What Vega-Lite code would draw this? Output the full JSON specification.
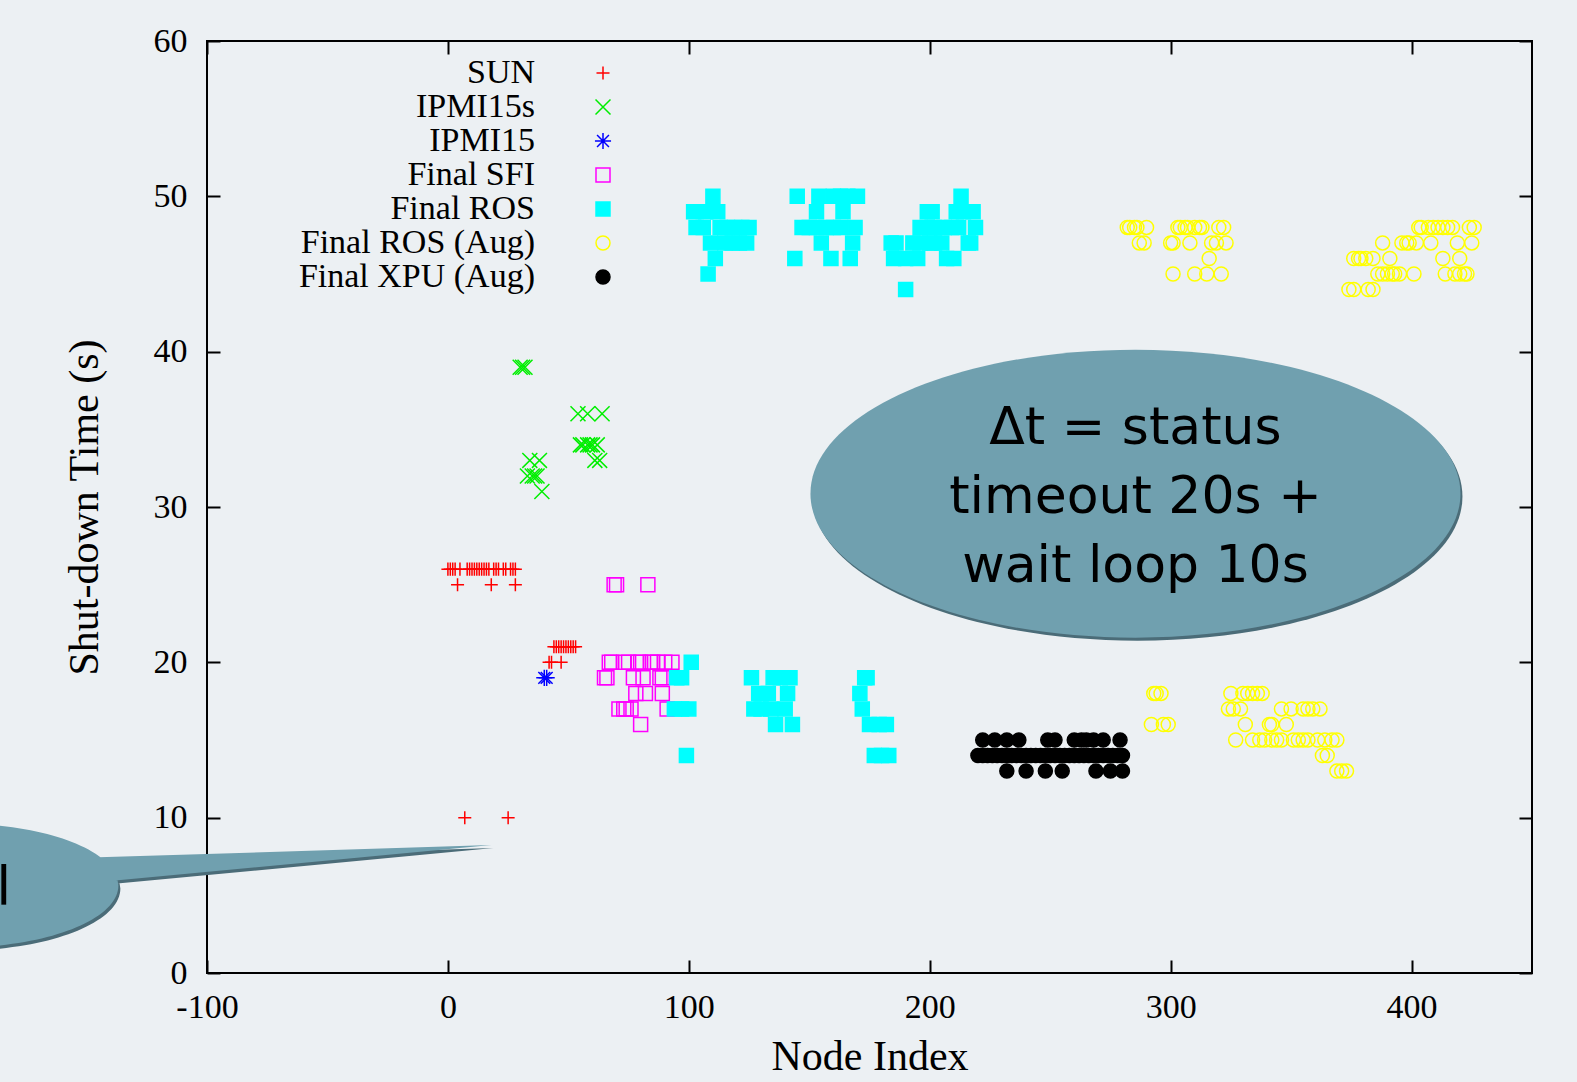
{
"$schema": "https://vega.github.io/schema/vega-lite/v6.json",
"width": 1325, "height": 932,
"autosize": {"type": "none"},
"padding": {"left": 207, "top": 41, "right": 45, "bottom": 109},
"background": "#ecf0f3",
"config": {
 "view": {"stroke": "black", "strokeWidth": 2},
 "axis": {"domain": false, "grid": false, "ticks": true, "tickColor": "black", "tickWidth": 2, "tickSize": -13, "labelFlush": false,
  "labelFont": "Liberation Serif", "labelFontSize": 34, "labelColor": "black",
  "titleFont": "Liberation Serif", "titleFontSize": 42, "titleFontWeight": "normal", "titleColor": "black"}
},
"datasets": {
 "pts": [
  {"series":"SUN","x":0,"y":26},{"series":"SUN","x":1,"y":26},{"series":"SUN","x":2,"y":26},{"series":"SUN","x":3,"y":26},{"series":"SUN","x":5,"y":26},{"series":"SUN","x":8,"y":26},{"series":"SUN","x":9,"y":26},{"series":"SUN","x":10,"y":26},{"series":"SUN","x":11,"y":26},{"series":"SUN","x":12,"y":26},{"series":"SUN","x":13,"y":26},{"series":"SUN","x":14,"y":26},{"series":"SUN","x":15,"y":26},{"series":"SUN","x":16,"y":26},{"series":"SUN","x":17,"y":26},{"series":"SUN","x":19,"y":26},{"series":"SUN","x":20,"y":26},{"series":"SUN","x":21,"y":26},{"series":"SUN","x":23,"y":26},{"series":"SUN","x":24,"y":26},{"series":"SUN","x":26,"y":26},{"series":"SUN","x":27,"y":26},{"series":"SUN","x":28,"y":26},
  {"series":"SUN","x":4,"y":25},{"series":"SUN","x":18,"y":25},{"series":"SUN","x":28,"y":25},
  {"series":"SUN","x":44,"y":21},{"series":"SUN","x":45,"y":21},{"series":"SUN","x":46,"y":21},{"series":"SUN","x":47,"y":21},{"series":"SUN","x":48,"y":21},{"series":"SUN","x":49,"y":21},{"series":"SUN","x":50,"y":21},{"series":"SUN","x":51,"y":21},{"series":"SUN","x":52,"y":21},{"series":"SUN","x":53,"y":21},
  {"series":"SUN","x":42,"y":20},{"series":"SUN","x":43,"y":20},{"series":"SUN","x":47,"y":20},
  {"series":"SUN","x":7,"y":10},{"series":"SUN","x":25,"y":10},
  {"series":"IPMI15s","x":30,"y":39},{"series":"IPMI15s","x":31,"y":39},{"series":"IPMI15s","x":32,"y":39},
  {"series":"IPMI15s","x":54,"y":36},{"series":"IPMI15s","x":58,"y":36},{"series":"IPMI15s","x":64,"y":36},
  {"series":"IPMI15s","x":55,"y":34},{"series":"IPMI15s","x":56,"y":34},{"series":"IPMI15s","x":58,"y":34},{"series":"IPMI15s","x":59,"y":34},{"series":"IPMI15s","x":60,"y":34},{"series":"IPMI15s","x":62,"y":34},
  {"series":"IPMI15s","x":61,"y":33},{"series":"IPMI15s","x":63,"y":33},{"series":"IPMI15s","x":34,"y":33},{"series":"IPMI15s","x":38,"y":33},
  {"series":"IPMI15s","x":33,"y":32},{"series":"IPMI15s","x":35,"y":32},{"series":"IPMI15s","x":36,"y":32},{"series":"IPMI15s","x":37,"y":32},
  {"series":"IPMI15s","x":39,"y":31},
  {"series":"IPMI15","x":40,"y":19},{"series":"IPMI15","x":41,"y":19},
  {"series":"Final SFI","x":69,"y":25},{"series":"Final SFI","x":70,"y":25},{"series":"Final SFI","x":83,"y":25},
  {"series":"Final SFI","x":67,"y":20},{"series":"Final SFI","x":68,"y":20},{"series":"Final SFI","x":73,"y":20},{"series":"Final SFI","x":75,"y":20},{"series":"Final SFI","x":79,"y":20},{"series":"Final SFI","x":80,"y":20},{"series":"Final SFI","x":84,"y":20},{"series":"Final SFI","x":85,"y":20},{"series":"Final SFI","x":87,"y":20},{"series":"Final SFI","x":90,"y":20},{"series":"Final SFI","x":93,"y":20},
  {"series":"Final SFI","x":65,"y":19},{"series":"Final SFI","x":66,"y":19},{"series":"Final SFI","x":77,"y":19},{"series":"Final SFI","x":81,"y":19},{"series":"Final SFI","x":88,"y":19},{"series":"Final SFI","x":89,"y":19},
  {"series":"Final SFI","x":78,"y":18},{"series":"Final SFI","x":82,"y":18},{"series":"Final SFI","x":89,"y":18},
  {"series":"Final SFI","x":71,"y":17},{"series":"Final SFI","x":73,"y":17},{"series":"Final SFI","x":74,"y":17},{"series":"Final SFI","x":76,"y":17},{"series":"Final SFI","x":91,"y":17},
  {"series":"Final SFI","x":80,"y":16},
  {"series":"Final ROS","x":110,"y":50},{"series":"Final ROS","x":145,"y":50},{"series":"Final ROS","x":154,"y":50},{"series":"Final ROS","x":160,"y":50},{"series":"Final ROS","x":163,"y":50},{"series":"Final ROS","x":166,"y":50},{"series":"Final ROS","x":170,"y":50},{"series":"Final ROS","x":213,"y":50},
  {"series":"Final ROS","x":102,"y":49},{"series":"Final ROS","x":107,"y":49},{"series":"Final ROS","x":112,"y":49},{"series":"Final ROS","x":153,"y":49},{"series":"Final ROS","x":164,"y":49},{"series":"Final ROS","x":199,"y":49},{"series":"Final ROS","x":201,"y":49},{"series":"Final ROS","x":211,"y":49},{"series":"Final ROS","x":214,"y":49},{"series":"Final ROS","x":218,"y":49},
  {"series":"Final ROS","x":103,"y":48},{"series":"Final ROS","x":106,"y":48},{"series":"Final ROS","x":113,"y":48},{"series":"Final ROS","x":116,"y":48},{"series":"Final ROS","x":119,"y":48},{"series":"Final ROS","x":122,"y":48},{"series":"Final ROS","x":125,"y":48},{"series":"Final ROS","x":147,"y":48},{"series":"Final ROS","x":150,"y":48},{"series":"Final ROS","x":153,"y":48},{"series":"Final ROS","x":157,"y":48},{"series":"Final ROS","x":160,"y":48},{"series":"Final ROS","x":163,"y":48},{"series":"Final ROS","x":169,"y":48},{"series":"Final ROS","x":196,"y":48},{"series":"Final ROS","x":199,"y":48},{"series":"Final ROS","x":202,"y":48},{"series":"Final ROS","x":206,"y":48},{"series":"Final ROS","x":209,"y":48},{"series":"Final ROS","x":212,"y":48},{"series":"Final ROS","x":219,"y":48},
  {"series":"Final ROS","x":109,"y":47},{"series":"Final ROS","x":115,"y":47},{"series":"Final ROS","x":118,"y":47},{"series":"Final ROS","x":121,"y":47},{"series":"Final ROS","x":124,"y":47},{"series":"Final ROS","x":155,"y":47},{"series":"Final ROS","x":168,"y":47},{"series":"Final ROS","x":184,"y":47},{"series":"Final ROS","x":186,"y":47},{"series":"Final ROS","x":193,"y":47},{"series":"Final ROS","x":196,"y":47},{"series":"Final ROS","x":200,"y":47},{"series":"Final ROS","x":202,"y":47},{"series":"Final ROS","x":205,"y":47},{"series":"Final ROS","x":216,"y":47},{"series":"Final ROS","x":217,"y":47},
  {"series":"Final ROS","x":111,"y":46},{"series":"Final ROS","x":144,"y":46},{"series":"Final ROS","x":159,"y":46},{"series":"Final ROS","x":167,"y":46},{"series":"Final ROS","x":185,"y":46},{"series":"Final ROS","x":190,"y":46},{"series":"Final ROS","x":195,"y":46},{"series":"Final ROS","x":207,"y":46},{"series":"Final ROS","x":210,"y":46},
  {"series":"Final ROS","x":108,"y":45},{"series":"Final ROS","x":190,"y":44},
  {"series":"Final ROS","x":101,"y":20},
  {"series":"Final ROS","x":95,"y":19},{"series":"Final ROS","x":97,"y":19},{"series":"Final ROS","x":126,"y":19},{"series":"Final ROS","x":135,"y":19},{"series":"Final ROS","x":138,"y":19},{"series":"Final ROS","x":142,"y":19},{"series":"Final ROS","x":173,"y":19},{"series":"Final ROS","x":174,"y":19},
  {"series":"Final ROS","x":129,"y":18},{"series":"Final ROS","x":133,"y":18},{"series":"Final ROS","x":141,"y":18},{"series":"Final ROS","x":171,"y":18},
  {"series":"Final ROS","x":94,"y":17},{"series":"Final ROS","x":97,"y":17},{"series":"Final ROS","x":100,"y":17},{"series":"Final ROS","x":127,"y":17},{"series":"Final ROS","x":130,"y":17},{"series":"Final ROS","x":134,"y":17},{"series":"Final ROS","x":140,"y":17},{"series":"Final ROS","x":172,"y":17},
  {"series":"Final ROS","x":136,"y":16},{"series":"Final ROS","x":143,"y":16},{"series":"Final ROS","x":175,"y":16},{"series":"Final ROS","x":179,"y":16},{"series":"Final ROS","x":182,"y":16},
  {"series":"Final ROS","x":99,"y":14},{"series":"Final ROS","x":177,"y":14},{"series":"Final ROS","x":180,"y":14},{"series":"Final ROS","x":183,"y":14},
  {"series":"Final ROS (Aug)","x":282,"y":48},{"series":"Final ROS (Aug)","x":283,"y":48},{"series":"Final ROS (Aug)","x":285,"y":48},{"series":"Final ROS (Aug)","x":286,"y":48},{"series":"Final ROS (Aug)","x":290,"y":48},{"series":"Final ROS (Aug)","x":303,"y":48},{"series":"Final ROS (Aug)","x":304,"y":48},{"series":"Final ROS (Aug)","x":306,"y":48},{"series":"Final ROS (Aug)","x":307,"y":48},{"series":"Final ROS (Aug)","x":310,"y":48},{"series":"Final ROS (Aug)","x":312,"y":48},{"series":"Final ROS (Aug)","x":313,"y":48},{"series":"Final ROS (Aug)","x":320,"y":48},{"series":"Final ROS (Aug)","x":322,"y":48},{"series":"Final ROS (Aug)","x":403,"y":48},{"series":"Final ROS (Aug)","x":404,"y":48},{"series":"Final ROS (Aug)","x":407,"y":48},{"series":"Final ROS (Aug)","x":409,"y":48},{"series":"Final ROS (Aug)","x":411,"y":48},{"series":"Final ROS (Aug)","x":413,"y":48},{"series":"Final ROS (Aug)","x":415,"y":48},{"series":"Final ROS (Aug)","x":417,"y":48},{"series":"Final ROS (Aug)","x":424,"y":48},{"series":"Final ROS (Aug)","x":426,"y":48},
  {"series":"Final ROS (Aug)","x":287,"y":47},{"series":"Final ROS (Aug)","x":289,"y":47},{"series":"Final ROS (Aug)","x":300,"y":47},{"series":"Final ROS (Aug)","x":301,"y":47},{"series":"Final ROS (Aug)","x":308,"y":47},{"series":"Final ROS (Aug)","x":317,"y":47},{"series":"Final ROS (Aug)","x":319,"y":47},{"series":"Final ROS (Aug)","x":323,"y":47},{"series":"Final ROS (Aug)","x":388,"y":47},{"series":"Final ROS (Aug)","x":396,"y":47},{"series":"Final ROS (Aug)","x":398,"y":47},{"series":"Final ROS (Aug)","x":399,"y":47},{"series":"Final ROS (Aug)","x":402,"y":47},{"series":"Final ROS (Aug)","x":408,"y":47},{"series":"Final ROS (Aug)","x":419,"y":47},{"series":"Final ROS (Aug)","x":425,"y":47},
  {"series":"Final ROS (Aug)","x":316,"y":46},{"series":"Final ROS (Aug)","x":376,"y":46},{"series":"Final ROS (Aug)","x":378,"y":46},{"series":"Final ROS (Aug)","x":379,"y":46},{"series":"Final ROS (Aug)","x":381,"y":46},{"series":"Final ROS (Aug)","x":384,"y":46},{"series":"Final ROS (Aug)","x":391,"y":46},{"series":"Final ROS (Aug)","x":413,"y":46},{"series":"Final ROS (Aug)","x":420,"y":46},
  {"series":"Final ROS (Aug)","x":301,"y":45},{"series":"Final ROS (Aug)","x":310,"y":45},{"series":"Final ROS (Aug)","x":315,"y":45},{"series":"Final ROS (Aug)","x":321,"y":45},{"series":"Final ROS (Aug)","x":386,"y":45},{"series":"Final ROS (Aug)","x":388,"y":45},{"series":"Final ROS (Aug)","x":390,"y":45},{"series":"Final ROS (Aug)","x":392,"y":45},{"series":"Final ROS (Aug)","x":393,"y":45},{"series":"Final ROS (Aug)","x":395,"y":45},{"series":"Final ROS (Aug)","x":401,"y":45},{"series":"Final ROS (Aug)","x":414,"y":45},{"series":"Final ROS (Aug)","x":418,"y":45},{"series":"Final ROS (Aug)","x":420,"y":45},{"series":"Final ROS (Aug)","x":422,"y":45},{"series":"Final ROS (Aug)","x":423,"y":45},
  {"series":"Final ROS (Aug)","x":374,"y":44},{"series":"Final ROS (Aug)","x":376,"y":44},{"series":"Final ROS (Aug)","x":382,"y":44},{"series":"Final ROS (Aug)","x":384,"y":44},
  {"series":"Final ROS (Aug)","x":293,"y":18},{"series":"Final ROS (Aug)","x":294,"y":18},{"series":"Final ROS (Aug)","x":296,"y":18},{"series":"Final ROS (Aug)","x":325,"y":18},{"series":"Final ROS (Aug)","x":330,"y":18},{"series":"Final ROS (Aug)","x":332,"y":18},{"series":"Final ROS (Aug)","x":334,"y":18},{"series":"Final ROS (Aug)","x":336,"y":18},{"series":"Final ROS (Aug)","x":338,"y":18},
  {"series":"Final ROS (Aug)","x":324,"y":17},{"series":"Final ROS (Aug)","x":326,"y":17},{"series":"Final ROS (Aug)","x":329,"y":17},{"series":"Final ROS (Aug)","x":346,"y":17},{"series":"Final ROS (Aug)","x":350,"y":17},{"series":"Final ROS (Aug)","x":355,"y":17},{"series":"Final ROS (Aug)","x":357,"y":17},{"series":"Final ROS (Aug)","x":359,"y":17},{"series":"Final ROS (Aug)","x":362,"y":17},
  {"series":"Final ROS (Aug)","x":292,"y":16},{"series":"Final ROS (Aug)","x":297,"y":16},{"series":"Final ROS (Aug)","x":299,"y":16},{"series":"Final ROS (Aug)","x":331,"y":16},{"series":"Final ROS (Aug)","x":341,"y":16},{"series":"Final ROS (Aug)","x":342,"y":16},{"series":"Final ROS (Aug)","x":348,"y":16},
  {"series":"Final ROS (Aug)","x":327,"y":15},{"series":"Final ROS (Aug)","x":334,"y":15},{"series":"Final ROS (Aug)","x":337,"y":15},{"series":"Final ROS (Aug)","x":339,"y":15},{"series":"Final ROS (Aug)","x":342,"y":15},{"series":"Final ROS (Aug)","x":344,"y":15},{"series":"Final ROS (Aug)","x":346,"y":15},{"series":"Final ROS (Aug)","x":351,"y":15},{"series":"Final ROS (Aug)","x":353,"y":15},{"series":"Final ROS (Aug)","x":355,"y":15},{"series":"Final ROS (Aug)","x":357,"y":15},{"series":"Final ROS (Aug)","x":361,"y":15},{"series":"Final ROS (Aug)","x":364,"y":15},{"series":"Final ROS (Aug)","x":367,"y":15},{"series":"Final ROS (Aug)","x":369,"y":15},
  {"series":"Final ROS (Aug)","x":363,"y":14},{"series":"Final ROS (Aug)","x":365,"y":14},
  {"series":"Final ROS (Aug)","x":369,"y":13},{"series":"Final ROS (Aug)","x":371,"y":13},{"series":"Final ROS (Aug)","x":373,"y":13},
  {"series":"Final XPU (Aug)","x":222,"y":15},{"series":"Final XPU (Aug)","x":227,"y":15},{"series":"Final XPU (Aug)","x":232,"y":15},{"series":"Final XPU (Aug)","x":237,"y":15},{"series":"Final XPU (Aug)","x":249,"y":15},{"series":"Final XPU (Aug)","x":252,"y":15},{"series":"Final XPU (Aug)","x":260,"y":15},{"series":"Final XPU (Aug)","x":263,"y":15},{"series":"Final XPU (Aug)","x":265,"y":15},{"series":"Final XPU (Aug)","x":268,"y":15},{"series":"Final XPU (Aug)","x":272,"y":15},{"series":"Final XPU (Aug)","x":279,"y":15},
  {"series":"Final XPU (Aug)","x":220,"y":14},{"series":"Final XPU (Aug)","x":222,"y":14},{"series":"Final XPU (Aug)","x":224,"y":14},{"series":"Final XPU (Aug)","x":226,"y":14},{"series":"Final XPU (Aug)","x":228,"y":14},{"series":"Final XPU (Aug)","x":230,"y":14},{"series":"Final XPU (Aug)","x":232,"y":14},{"series":"Final XPU (Aug)","x":234,"y":14},{"series":"Final XPU (Aug)","x":236,"y":14},{"series":"Final XPU (Aug)","x":238,"y":14},{"series":"Final XPU (Aug)","x":240,"y":14},{"series":"Final XPU (Aug)","x":242,"y":14},{"series":"Final XPU (Aug)","x":244,"y":14},{"series":"Final XPU (Aug)","x":246,"y":14},{"series":"Final XPU (Aug)","x":248,"y":14},{"series":"Final XPU (Aug)","x":250,"y":14},{"series":"Final XPU (Aug)","x":252,"y":14},{"series":"Final XPU (Aug)","x":254,"y":14},{"series":"Final XPU (Aug)","x":256,"y":14},{"series":"Final XPU (Aug)","x":258,"y":14},{"series":"Final XPU (Aug)","x":260,"y":14},{"series":"Final XPU (Aug)","x":262,"y":14},{"series":"Final XPU (Aug)","x":264,"y":14},{"series":"Final XPU (Aug)","x":266,"y":14},{"series":"Final XPU (Aug)","x":268,"y":14},{"series":"Final XPU (Aug)","x":270,"y":14},{"series":"Final XPU (Aug)","x":272,"y":14},{"series":"Final XPU (Aug)","x":274,"y":14},{"series":"Final XPU (Aug)","x":276,"y":14},{"series":"Final XPU (Aug)","x":278,"y":14},{"series":"Final XPU (Aug)","x":280,"y":14},
  {"series":"Final XPU (Aug)","x":232,"y":13},{"series":"Final XPU (Aug)","x":240,"y":13},{"series":"Final XPU (Aug)","x":248,"y":13},{"series":"Final XPU (Aug)","x":255,"y":13},{"series":"Final XPU (Aug)","x":269,"y":13},{"series":"Final XPU (Aug)","x":275,"y":13},{"series":"Final XPU (Aug)","x":280,"y":13}
 ],
 "notes": [{"x": 285.4, "y": 30.86}],
 "notetext": [{"x": 285.4, "y": 35.1}],
 "callout": [{"x": -203.2, "y": 5.63}],
 "cut": [{"x": -181.2, "y": 4.35}]
},
"resolve": {"axis": {"x": "independent", "y": "independent"}},
"layer": [
 {
  "data": {"name": "callout"},
  "mark": {"type": "point", "filled": true, "opacity": 1, "size": 4, "xOffset": 2, "yOffset": 3, "fill": "#4b6c78", "strokeWidth": 0,
   "shape": "M -160 0 A 160 62 0 1 1 160 0 A 160 62 0 1 1 -160 0 Z M 132 -28 L 533 -40.5 L 157 -5 Z"},
  "encoding": {
   "x": {"field": "x", "type": "quantitative", "scale": {"domain": [-100, 450], "nice": false, "zero": false}, "axis": null},
   "y": {"field": "y", "type": "quantitative", "scale": {"domain": [0, 60], "nice": false}, "axis": null}
  }
 },
 {
  "data": {"name": "callout"},
  "mark": {"type": "point", "filled": true, "opacity": 1, "size": 4, "fill": "#70a0af", "strokeWidth": 0,
   "shape": "M -160 0 A 160 62 0 1 1 160 0 A 160 62 0 1 1 -160 0 Z M 132 -28 L 533 -40.5 L 157 -5 Z"},
  "encoding": {
   "x": {"field": "x", "type": "quantitative", "scale": {"domain": [-100, 450], "nice": false, "zero": false}, "axis": null},
   "y": {"field": "y", "type": "quantitative", "scale": {"domain": [0, 60], "nice": false}, "axis": null}
  }
 },
 {
  "data": {"name": "cut"},
  "mark": {"type": "text", "text": "l", "font": "DejaVu Sans", "fontSize": 54, "align": "right", "baseline": "alphabetic", "color": "black"},
  "encoding": {
   "x": {"field": "x", "type": "quantitative", "scale": {"domain": [-100, 450], "nice": false, "zero": false}, "axis": null},
   "y": {"field": "y", "type": "quantitative", "scale": {"domain": [0, 60], "nice": false}, "axis": null}
  }
 },
 {
  "data": {"name": "pts"},
  "mark": {"type": "point", "opacity": 1, "strokeWidth": 1.5, "size": 196},
  "encoding": {
   "x": {"field": "x", "type": "quantitative", "scale": {"domain": [-100, 450], "nice": false, "zero": false},
    "axis": {"orient": "bottom", "title": "Node Index", "values": [-100, 0, 100, 200, 300, 400], "labelExpr": "'' + datum.value", "labelPadding": 30, "titlePadding": 12}},
   "y": {"field": "y", "type": "quantitative", "scale": {"domain": [0, 60], "nice": false},
    "axis": {"orient": "left", "title": "Shut-down Time (s)", "values": [0, 10, 20, 30, 40, 50, 60], "labelPadding": 33, "titlePadding": 47}},
   "shape": {"field": "series", "type": "nominal",
    "scale": {"domain": ["SUN", "IPMI15s", "IPMI15", "Final SFI", "Final ROS", "Final ROS (Aug)", "Final XPU (Aug)"],
     "range": ["M-0.93,0L0.93,0M0,-0.93L0,0.93", "M-1.07,-1.07L1.07,1.07M-1.07,1.07L1.07,-1.07", "M-1.15,0L1.15,0M0,-1.15L0,1.15M-0.85,-0.85L0.85,0.85M-0.85,0.85L0.85,-0.85", "square", "square", "circle", "circle"]},
    "legend": {"title": null, "orient": "none", "legendX": 379, "legendY": 15, "padding": 0,
     "labelFont": "Liberation Serif", "labelFontSize": 34, "labelColor": "black", "labelAlign": "right", "labelBaseline": "middle",
     "labelOffset": -85, "labelLimit": 400, "symbolSize": 196, "symbolStrokeWidth": 1.5, "rowPadding": -1}},
   "stroke": {"field": "series", "type": "nominal",
    "scale": {"domain": ["SUN", "IPMI15s", "IPMI15", "Final SFI", "Final ROS", "Final ROS (Aug)", "Final XPU (Aug)"],
     "range": ["#ff0000", "#00ee00", "#0000ff", "#ff00ff", "#00ffff", "#ffff00", "#000000"]}},
   "fill": {"field": "series", "type": "nominal",
    "scale": {"domain": ["SUN", "IPMI15s", "IPMI15", "Final SFI", "Final ROS", "Final ROS (Aug)", "Final XPU (Aug)"],
     "range": ["transparent", "transparent", "transparent", "transparent", "#00ffff", "transparent", "#000000"]}}
  }
 },
 {
  "data": {"name": "notes"},
  "mark": {"type": "point", "filled": true, "opacity": 1, "size": 4, "xOffset": 2, "yOffset": 3, "fill": "#4b6c78", "strokeWidth": 0,
   "shape": "M -325 0 A 325 144 0 1 1 325 0 A 325 144 0 1 1 -325 0 Z"},
  "encoding": {
   "x": {"field": "x", "type": "quantitative", "scale": {"domain": [-100, 450], "nice": false, "zero": false},
    "axis": {"orient": "top", "title": null, "labels": false, "values": [-100, 0, 100, 200, 300, 400]}},
   "y": {"field": "y", "type": "quantitative", "scale": {"domain": [0, 60], "nice": false},
    "axis": {"orient": "right", "title": null, "labels": false, "values": [0, 10, 20, 30, 40, 50, 60]}}
  }
 },
 {
  "data": {"name": "notes"},
  "mark": {"type": "point", "filled": true, "opacity": 1, "size": 4, "fill": "#70a0af", "strokeWidth": 0,
   "shape": "M -325 0 A 325 144 0 1 1 325 0 A 325 144 0 1 1 -325 0 Z"},
  "encoding": {
   "x": {"field": "x", "type": "quantitative", "scale": {"domain": [-100, 450], "nice": false, "zero": false}, "axis": null},
   "y": {"field": "y", "type": "quantitative", "scale": {"domain": [0, 60], "nice": false}, "axis": null}
  }
 },
 {
  "data": {"name": "notetext"},
  "mark": {"type": "text", "text": ["Δt = status", "timeout 20s +", "wait loop 10s"], "font": "DejaVu Sans", "fontSize": 52, "lineHeight": 69, "align": "center", "baseline": "middle", "color": "black"},
  "encoding": {
   "x": {"field": "x", "type": "quantitative", "scale": {"domain": [-100, 450], "nice": false, "zero": false}, "axis": null},
   "y": {"field": "y", "type": "quantitative", "scale": {"domain": [0, 60], "nice": false}, "axis": null}
  }
 }
]
}
